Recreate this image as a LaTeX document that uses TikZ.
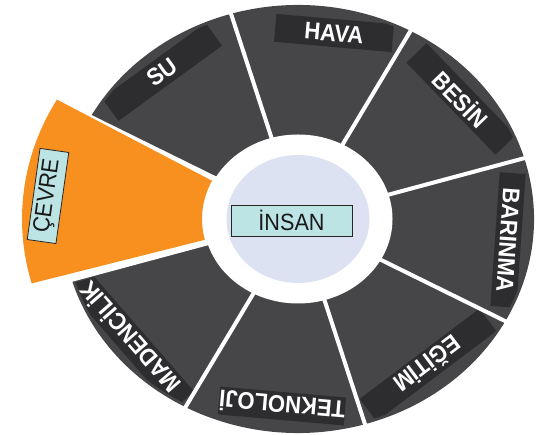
\documentclass[tikz,border=0pt]{standalone}
\usepackage{fontspec}
\usepackage{graphicx}
\setmainfont{Liberation Sans}
\usetikzlibrary{calc}
\definecolor{seg}{HTML}{464648}
\definecolor{lab}{HTML}{2D2D2F}
\definecolor{orng}{HTML}{F7901E}
\definecolor{core}{HTML}{DCE2F1}
\definecolor{cyanbox}{HTML}{BCE4E4}
\newcommand{\narrowtxt}[1]{\scalebox{0.92}[1]{#1}}
\begin{document}
\begin{tikzpicture}[x=1bp,y=1bp,
  divider/.style={draw=white,line width=4bp},
  darklabel/.style={fill=lab,text=white,font=\fontsize{24bp}{26bp}\selectfont\bfseries,inner sep=0pt,minimum height=28bp},
  lightlabel/.style={fill=cyanbox,draw=black!85,line width=0.8bp,text=black!90,font=\fontsize{23.5bp}{26bp}\selectfont,inner sep=0pt}]
\useasboundingbox (0,0) rectangle (545,435);
\coordinate (C) at (298,216);
\coordinate (Co) at (288,216);
% gray wheel (all sectors except the pulled-out one)
\fill[seg] (C) -- ($(C)+(-163.5:236 and 214)$)
  arc[start angle=-163.5,end angle=151.5,x radius=236,y radius=214] -- cycle;
% dark label boxes, kept inside the gray wheel
\begin{scope}
\clip (C) -- ($(C)+(-162.5:233 and 211)$)
  arc[start angle=-162.5,end angle=150.5,x radius=233,y radius=211] -- cycle;
\node[darklabel,minimum width=118bp,rotate=-5] (hava) at (334,402) {\narrowtxt{HAVA}};
\node[darklabel,minimum width=128bp,rotate=36] (su) at (162,363) {\narrowtxt{SU}};
\node[darklabel,minimum width=128bp,rotate=-46] (besin) at (461,336) {\narrowtxt{BESİN}};
\node[darklabel,minimum width=134bp,minimum height=26bp,rotate=-94] (barinma) at (508,195) {\narrowtxt{BARINMA}};
\node[darklabel,minimum width=150bp,rotate=-143] (egitim) at (428,70) {\narrowtxt{EĞİTİM}};
\node[darklabel,minimum width=124bp,rotate=175] (tekno) at (282,29) {\narrowtxt{TEKNOLOJİ}};
\node[darklabel,minimum width=166bp,rotate=131] (maden) at (129,97) {\narrowtxt{MADENCİLİK}};
\end{scope}
% dividers
\foreach \a in {-163.5,-118.5,-73.5,-28.5,16.5,61.5,106.5,151.5}
  \draw[divider] (C) -- ($(C)+(\a:238 and 216)$);
% pulled-out orange sector
\fill[orng] ($(C)+(153.6:96 and 86)$) -- ($(Co)+(150.3:266 and 241)$)
  arc[start angle=150.3,end angle=195.5,x radius=266,y radius=241]
  -- ($(C)+(194:96 and 86)$)
  arc[start angle=194,end angle=153.6,x radius=96,y radius=86] -- cycle;
\node[lightlabel,minimum width=92bp,minimum height=29bp,rotate=82] (cevre) at (48,239) {\narrowtxt{ÇEVRE}};
% centre
\fill[white] (C) ellipse [x radius=94.5, y radius=84.5];
\fill[core] (C) ellipse [x radius=71.5, y radius=64];
\node[lightlabel,minimum width=121bp,minimum height=31bp] (insan) at (291.5,214.5) {\narrowtxt{İNSAN}};
\end{tikzpicture}
\end{document}
